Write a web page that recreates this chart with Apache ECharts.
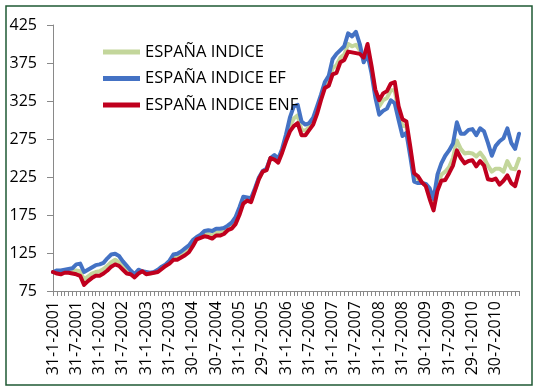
<!DOCTYPE html>
<html>
<head>
<meta charset="utf-8">
<script src="https://cdn.jsdelivr.net/npm/echarts@6/dist/echarts.min.js"></script>
<style>html,body{margin:0;padding:0;background:#fff}#c{width:539px;height:391px}</style>
</head>
<body>
<div id="c"></div>
<script>
var categories = [
'31-1-2001','28-2-2001','30-3-2001','30-4-2001','31-5-2001','29-6-2001','31-7-2001','31-8-2001','28-9-2001','31-10-2001','30-11-2001','31-12-2001',
'31-1-2002','28-2-2002','29-3-2002','30-4-2002','31-5-2002','28-6-2002','31-7-2002','30-8-2002','30-9-2002','31-10-2002','29-11-2002','31-12-2002',
'31-1-2003','28-2-2003','31-3-2003','30-4-2003','30-5-2003','30-6-2003','31-7-2003','29-8-2003','30-9-2003','31-10-2003','28-11-2003','31-12-2003',
'30-1-2004','27-2-2004','31-3-2004','30-4-2004','31-5-2004','30-6-2004','30-7-2004','31-8-2004','30-9-2004','29-10-2004','30-11-2004','31-12-2004',
'31-1-2005','28-2-2005','31-3-2005','29-4-2005','31-5-2005','30-6-2005','29-7-2005','31-8-2005','30-9-2005','31-10-2005','30-11-2005','30-12-2005',
'31-1-2006','28-2-2006','31-3-2006','28-4-2006','31-5-2006','30-6-2006','31-7-2006','31-8-2006','29-9-2006','31-10-2006','30-11-2006','29-12-2006',
'31-1-2007','28-2-2007','30-3-2007','30-4-2007','31-5-2007','29-6-2007','31-7-2007','31-8-2007','28-9-2007','31-10-2007','30-11-2007','31-12-2007',
'31-1-2008','29-2-2008','31-3-2008','30-4-2008','30-5-2008','30-6-2008','31-7-2008','29-8-2008','30-9-2008','31-10-2008','28-11-2008','31-12-2008',
'30-1-2009','27-2-2009','31-3-2009','30-4-2009','29-5-2009','30-6-2009','31-7-2009','31-8-2009','30-9-2009','30-10-2009','30-11-2009','31-12-2009',
'29-1-2010','26-2-2010','31-3-2010','30-4-2010','31-5-2010','30-6-2010','30-7-2010','31-8-2010','30-9-2010','29-10-2010','30-11-2010','31-12-2010',
'31-1-2011'
];

var espanaIndice = [
100,100,99,101,101,101,102,101,90,94,98,100,101,104,108,113,116,113,107,102,
99,95,100,101,98,98,99,101,105,109,113,119,119,122,126,130,137,144,147,150,
150,148,152,152,153,157,160,167,179,194,196,194,208,223,232,235,250,250,246,
259,276,292,302,306,287,286,291,298,312,329,345,350,368,372,382,386,400,397,399,
392,380,394,368,336,318,326,329,339,339,311,292,292,260,226,222,218,214,202,187,
214,228,232,238,250,273,262,256,257,256,252,257,250,240,232,236,236,232,246,236,235,249
];

var espanaIndiceEF = [
100,102,102,103,104,105,110,111,100,103,106,109,110,112,118,123,124,121,114,108,
102,97,103,101,100,99,100,103,107,110,115,123,124,127,131,135,142,146,149,154,
155,154,157,157,158,161,165,172,185,199,198,197,210,224,233,236,250,254,249,
262,281,303,318,320,298,294,296,303,318,333,350,358,380,387,392,397,414,410,416,
400,376,386,362,330,307,312,315,326,322,300,279,283,252,219,217,217,216,210,196,
228,243,253,260,269,297,282,282,287,288,280,289,285,270,253,266,272,276,289,270,262,282
];

var espanaIndiceENF = [
100,98,97,99,99,98,97,95,83,88,92,95,95,98,102,107,110,108,103,98,
97,93,98,101,97,98,99,100,104,108,111,116,116,119,122,126,134,143,145,147,
146,144,148,148,150,155,157,163,175,190,194,192,207,222,232,234,250,248,244,
257,272,285,292,296,280,280,287,294,308,326,342,345,360,362,376,379,390,389,388,
387,382,400,372,340,326,335,338,348,350,318,301,298,265,230,226,218,213,196,181,
207,220,221,230,240,260,250,243,246,247,239,246,240,222,221,223,215,220,227,217,213,232
];

var yTicks = [75,125,175,225,275,325,375,425];
var seriesNames = ['ESPAÑA INDICE','ESPAÑA INDICE EF','ESPAÑA INDICE ENF'];
var colors = ['#c3d69b','#4472c4','#c0001e'];

var FONT = '"Open Sans", "Liberation Sans", sans-serif';
var chart = echarts.init(document.getElementById('c'), null, {renderer:'canvas'});
var axisGray = '#898989';

function mk(name, data, color){
  return {
    name: name, type: 'line', data: data, symbol: 'none', showSymbol: false,
    color: color,
    lineStyle: {width: 4, color: color, join: 'round', cap: 'round'},
    emphasis: {disabled: true}
  };
}

chart.setOption({
  animation: false,
  backgroundColor: '#ffffff',
  grid: {left: 53, right: 20, top: 25, bottom: 100, containLabel: false},
  graphic: [{
    type: 'rect', shape: {x: 6, y: 6, width: 526, height: 379},
    style: {fill: 'none', stroke: '#1f5a34', lineWidth: 1.5}, z: 100, silent: true
  }],
  legend: {
    orient: 'vertical', left: 103, top: 42.5, padding: 0,
    itemWidth: 37, itemHeight: 5, itemGap: 7.5, icon: 'rect',
    data: seriesNames,
    textStyle: {fontFamily: FONT, fontSize: 16.5, color: '#000', lineHeight: 19}
  },
  xAxis: {
    type: 'category', data: categories, boundaryGap: false,
    axisLine: {lineStyle: {color: axisGray, width: 1}},
    axisTick: {show: true, interval: 0, length: 5, lineStyle: {color: axisGray}},
    axisLabel: {
      rotate: 90, margin: 10, color: '#000', fontFamily: FONT, fontSize: 16,
      interval: function(i){ return i % 6 === 0 && i < 120; }
    },
    splitLine: {show: false}
  },
  yAxis: {
    type: 'value', min: 75, max: 425,
    axisLine: {show: true, lineStyle: {color: axisGray, width: 1}},
    axisTick: {show: true, length: 6, customValues: yTicks, lineStyle: {color: axisGray}},
    axisLabel: {customValues: yTicks, margin: 16, color: '#000', fontFamily: FONT, fontSize: 16},
    splitLine: {show: false}
  },
  series: [
    mk(seriesNames[0], espanaIndice, colors[0]),
    mk(seriesNames[1], espanaIndiceEF, colors[1]),
    mk(seriesNames[2], espanaIndiceENF, colors[2])
  ]
});
</script>
</body>
</html>
